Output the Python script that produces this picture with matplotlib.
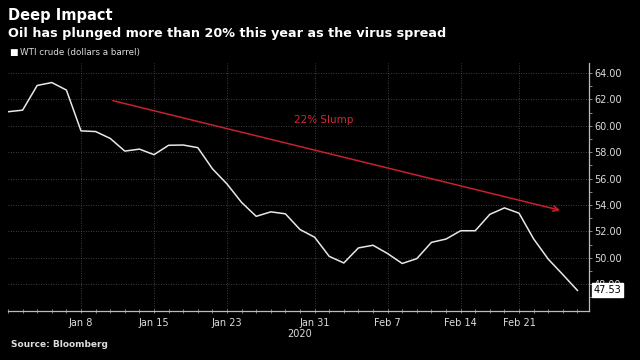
import matplotlib.pyplot as plt
import numpy as np

# WTI crude daily closes, Dec 31 2019 - Feb 27 2020 (trading days)
dates = ["Dec 31", "Jan 2", "Jan 3", "Jan 6", "Jan 7", "Jan 8", "Jan 9", "Jan 10",
         "Jan 13", "Jan 14", "Jan 15", "Jan 16", "Jan 17", "Jan 21", "Jan 22",
         "Jan 23", "Jan 24", "Jan 27", "Jan 28", "Jan 29", "Jan 30", "Jan 31",
         "Feb 3", "Feb 4", "Feb 5", "Feb 6", "Feb 7", "Feb 10", "Feb 11", "Feb 12",
         "Feb 13", "Feb 14", "Feb 18", "Feb 19", "Feb 20", "Feb 21", "Feb 24",
         "Feb 25", "Feb 26", "Feb 27"]
wti = [61.06, 61.18, 63.05, 63.27, 62.70, 59.61, 59.56, 59.04,
       58.08, 58.23, 57.81, 58.52, 58.54, 58.34, 56.74,
       55.59, 54.19, 53.14, 53.48, 53.33, 52.14, 51.56,
       50.11, 49.61, 50.75, 50.95, 50.32, 49.57, 49.94, 51.17,
       51.42, 52.05, 52.05, 53.29, 53.78, 53.38, 51.43,
       49.90, 48.73, 47.53]
tick_labels = ["Jan 8", "Jan 15", "Jan 23", "Jan 31", "Feb 7", "Feb 14", "Feb 21"]

x = np.arange(len(wti))
tick_pos = [dates.index(t) for t in tick_labels]

fig = plt.figure(figsize=(6.4, 3.6), dpi=100, facecolor="black")
ax = fig.add_axes([0.0125, 0.136, 0.908, 0.689], facecolor="black")

grey = "#9a9a9a"
ax.plot(x, wti, color="#e8e8e8", lw=1.1, zorder=3)

ax.set_xlim(0, len(wti) - 0.2)
ax.set_ylim(45.97, 64.75)

ax.set_xticks(tick_pos)
ax.set_xticklabels(tick_labels)
ax.set_xticks(x, minor=True)
ax.set_yticks(np.arange(48, 65, 2))
ax.set_yticks(np.arange(47, 65, 2), minor=True)
ax.yaxis.set_major_formatter(plt.FuncFormatter(lambda v, p: f"{v:.2f}"))
ax.yaxis.tick_right()

ax.tick_params(axis="x", which="both", colors=grey, direction="inout",
               length=3.5, width=0.6, labelsize=7, labelcolor="#dddddd", pad=3)
ax.tick_params(axis="y", which="both", colors=grey, direction="out",
               length=2.5, width=0.6, labelsize=7, labelcolor="#dddddd", pad=1)

for s in ["top", "left"]:
    ax.spines[s].set_visible(False)
for s in ["bottom", "right"]:
    ax.spines[s].set_color("#bbbbbb")
    ax.spines[s].set_linewidth(0.9)

ax.grid(True, which="major", color="#555555", lw=0.6, ls=(0, (1, 2)))

# trend arrow
ax.annotate("", xy=(38.0, 53.55), xytext=(7.0, 61.95),
            arrowprops=dict(arrowstyle="->", color="#c8202c", lw=1.1,
                            mutation_scale=10), zorder=4)
ax.text(21.6, 60.4, "22% Slump", color="#d0283a", fontsize=7.5,
        ha="center", va="center")

# last value tag
ax.annotate(f"{wti[-1]:.2f}", xy=(1.008, wti[-1]), xycoords=("axes fraction", "data"),
            fontsize=7, color="black", va="center", ha="left", zorder=10,
            annotation_clip=False,
            bbox=dict(boxstyle="square,pad=0.2", fc="white", ec="white"))

ax.text(20.0, 44.2, "2020", color="#dddddd", fontsize=7, ha="center", va="center",
        clip_on=False)

fig.text(0.0125, 0.958, "Deep Impact", color="white", fontsize=10.5,
         fontweight="bold", va="center")
fig.text(0.0125, 0.908, "Oil has plunged more than 20% this year as the virus spread",
         color="white", fontsize=9.2, fontweight="bold", va="center")
fig.text(0.015, 0.853, "\u25A0", color="white", fontsize=6.5, va="center")
fig.text(0.032, 0.853, "WTI crude (dollars a barrel)", color="#dddddd",
         fontsize=6.3, va="center")
fig.text(0.017, 0.042, "Source: Bloomberg", color="#dddddd", fontsize=6.5,
         fontweight="bold", va="center")

fig.savefig("out.png", dpi=100, facecolor="black")
